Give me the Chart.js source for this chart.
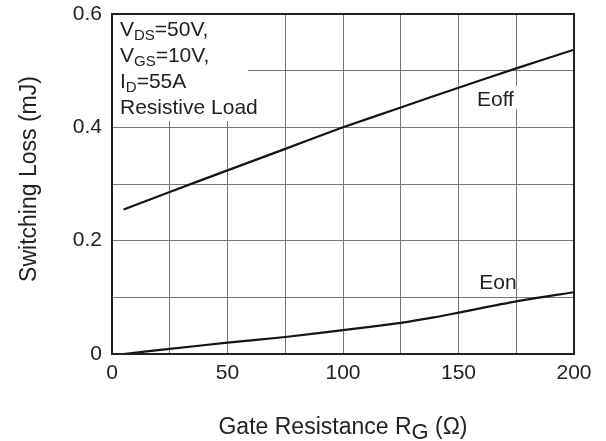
<!DOCTYPE html>
<html>
<head>
<meta charset="utf-8">
<script src="https://cdn.jsdelivr.net/npm/chart.js@4.4.1/dist/chart.umd.min.js"></script>
<style>
  html, body { margin: 0; padding: 0; background: #fff; }
  #wrap { width: 606px; height: 441px; }
</style>
</head>
<body>
<div id="wrap"><canvas id="lossChart" width="606" height="441"></canvas></div>
<script>
// gate resistance (ohm) vs switching loss (mJ)
const EOFF_RG = [5, 25, 50, 75, 100, 125, 150, 175, 200];
const EOFF_MJ = [0.255, 0.286, 0.324, 0.362, 0.400, 0.435, 0.470, 0.504, 0.537];

const EON_RG = [5, 25, 50, 75, 100, 125, 140, 150, 175, 200];
const EON_MJ = [0.000, 0.009, 0.020, 0.030, 0.042, 0.055, 0.065, 0.073, 0.093, 0.109];

const X_TICKS = [0, 50, 100, 150, 200];
const Y_TICKS = [0, 0.2, 0.4, 0.6];

const FONT = '"Liberation Sans", Arial, Helvetica, sans-serif';
const INK  = '#222222';
const GRID = '#777777';

const toPoints = (xs, ys) => xs.map((x, i) => ({ x, y: ys[i] }));

// draws a run of text pieces, some of them as subscripts
function drawRich(ctx, parts, x, y, size, align) {
  const subSize = Math.round(size * 0.7);
  let total = 0;
  parts.forEach(p => {
    ctx.font = (p.sub ? p.subSize || subSize : size) + 'px ' + FONT;
    p.w = ctx.measureText(p.t).width;
    total += p.w;
  });
  let cx = align === 'center' ? x - total / 2 : x;
  parts.forEach(p => {
    ctx.font = (p.sub ? p.subSize || subSize : size) + 'px ' + FONT;
    ctx.fillText(p.t, cx, y + (p.sub ? p.drop || 4 : 0));
    cx += p.w;
  });
}

const annotations = {
  id: 'annotations',
  beforeDatasetsDraw(chart) {
    const { ctx, chartArea: a, scales: { x, y } } = chart;
    ctx.save();
    ctx.fillStyle = '#fff';
    // condition box in the upper-left corner
    ctx.fillRect(a.left + 1, a.top + 1, 247 - a.left, 120 - a.top);
    // gap in the grid behind the Eoff label
    ctx.fillRect(x.getPixelForValue(170), y.getPixelForValue(0.473), 22, 23);
    ctx.restore();
  },
  afterDraw(chart) {
    const { ctx, chartArea: a, scales: { x, y } } = chart;
    ctx.save();

    // plot frame
    ctx.strokeStyle = INK;
    ctx.lineWidth = 2;
    ctx.strokeRect(a.left, a.top, a.right - a.left, a.bottom - a.top);

    ctx.fillStyle = INK;
    ctx.textBaseline = 'alphabetic';
    ctx.textAlign = 'left';

    const bx = a.left + 8;
    drawRich(ctx, [{ t: 'V' }, { t: 'DS', sub: true }, { t: '=50V,' }], bx, 36, 21);
    drawRich(ctx, [{ t: 'V' }, { t: 'GS', sub: true }, { t: '=10V,' }], bx, 62, 21);
    drawRich(ctx, [{ t: 'I' }, { t: 'D', sub: true }, { t: '=55A' }], bx, 88, 21);
    drawRich(ctx, [{ t: 'Resistive Load' }], bx, 114, 21);

    ctx.font = '21px ' + FONT;
    ctx.fillText('Eoff', x.getPixelForValue(158), y.getPixelForValue(0.438));
    ctx.fillText('Eon', x.getPixelForValue(159), y.getPixelForValue(0.114));

    // axis titles
    drawRich(ctx, [{ t: 'Gate Resistance R' }, { t: 'G', sub: true, subSize: 22, drop: 5 }, { t: ' (\u03A9)' }],
      (a.left + a.right) / 2, 434, 23, 'center');

    ctx.translate(36, 179);
    ctx.rotate(-Math.PI / 2);
    ctx.textAlign = 'center';
    ctx.font = '23px ' + FONT;
    ctx.fillText('Switching Loss (mJ)', 0, 0);

    ctx.restore();
  }
};

const lineStyle = {
  borderColor: '#151515',
  borderWidth: 2.2,
  pointRadius: 0,
  showLine: true,
  tension: 0.2,
  fill: false,
};

new Chart(document.getElementById('lossChart'), {
  type: 'scatter',
  data: {
    datasets: [
      { label: 'Eoff', data: toPoints(EOFF_RG, EOFF_MJ), ...lineStyle },
      { label: 'Eon',  data: toPoints(EON_RG, EON_MJ),  ...lineStyle },
    ]
  },
  options: {
    responsive: false,
    animation: false,
    devicePixelRatio: 1,
    layout: { padding: { top: 14, right: 32, left: 0, bottom: 0 } },
    plugins: {
      legend: { display: false },
      tooltip: { enabled: false },
    },
    scales: {
      x: {
        type: 'linear',
        min: 0,
        max: 200,
        afterFit: s => { s.height = 87; s.paddingLeft = 0; s.paddingRight = 0; },
        border: { display: false },
        grid: { color: GRID, lineWidth: 1, drawTicks: false },
        ticks: {
          stepSize: 25,
          autoSkip: false,
          maxRotation: 0,
          padding: 7,
          color: INK,
          font: { family: FONT, size: 21 },
          callback: v => X_TICKS.includes(v) ? String(v) : '',
        }
      },
      y: {
        min: 0,
        max: 0.6,
        afterFit: s => { s.width = 112; s.paddingTop = 0; s.paddingBottom = 0; },
        border: { display: false },
        grid: { color: GRID, lineWidth: 1, drawTicks: false },
        ticks: {
          stepSize: 0.1,
          autoSkip: false,
          padding: 10,
          color: INK,
          font: { family: FONT, size: 21 },
          callback: v => {
            const r = Math.round(v * 10) / 10;
            return Y_TICKS.includes(r) ? (r === 0 ? '0' : r.toFixed(1)) : '';
          },
        }
      }
    }
  },
  plugins: [annotations]
});
</script>
</body>
</html>
